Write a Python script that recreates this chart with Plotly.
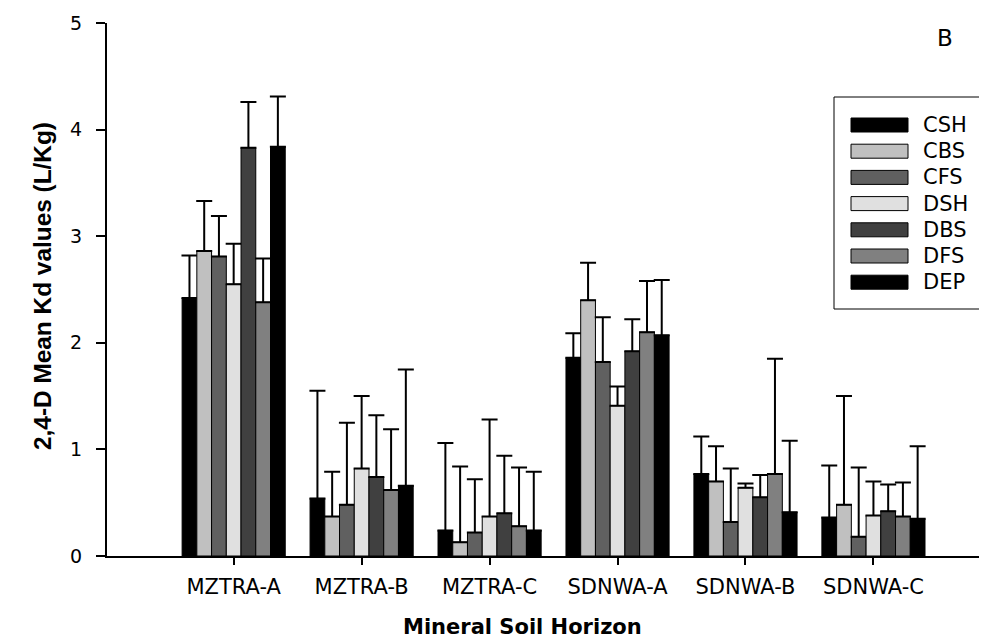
import plotly.graph_objects as go

categories = ["MZTRA-A", "MZTRA-B", "MZTRA-C", "SDNWA-A", "SDNWA-B", "SDNWA-C"]

series_names = ["CSH", "CBS", "CFS", "DSH", "DBS", "DFS", "DEP"]

CSH = [2.42, 0.54, 0.24, 1.86, 0.77, 0.36]
CBS = [2.86, 0.37, 0.13, 2.40, 0.70, 0.48]
CFS = [2.81, 0.48, 0.22, 1.82, 0.32, 0.18]
DSH = [2.55, 0.82, 0.37, 1.41, 0.64, 0.38]
DBS = [3.83, 0.74, 0.40, 1.92, 0.55, 0.42]
DFS = [2.38, 0.62, 0.28, 2.10, 0.77, 0.37]
DEP = [3.84, 0.66, 0.24, 2.07, 0.41, 0.35]

CSH_err = [0.40, 1.01, 0.82, 0.23, 0.35, 0.49]
CBS_err = [0.47, 0.42, 0.71, 0.35, 0.33, 1.02]
CFS_err = [0.38, 0.77, 0.50, 0.42, 0.50, 0.65]
DSH_err = [0.38, 0.68, 0.91, 0.18, 0.04, 0.32]
DBS_err = [0.43, 0.58, 0.54, 0.30, 0.21, 0.25]
DFS_err = [0.41, 0.57, 0.55, 0.48, 1.08, 0.32]
DEP_err = [0.47, 1.09, 0.55, 0.52, 0.67, 0.68]

y_ticks = [0, 1, 2, 3, 4, 5]

values = [CSH, CBS, CFS, DSH, DBS, DFS, DEP]
errors = [CSH_err, CBS_err, CFS_err, DSH_err, DBS_err, DFS_err, DEP_err]
colors = ["#000000", "#c0c0c0", "#606060", "#e0e0e0", "#404040", "#808080", "#000000"]

fig = go.Figure()
for name, vals, errs, col in zip(series_names, values, errors, colors):
    fig.add_trace(go.Bar(
        name=name, x=categories, y=vals,
        marker=dict(color=col, line=dict(color="#000000", width=1)),
        error_y=dict(type="data", array=errs, arrayminus=[0] * len(errs),
                     symmetric=False, color="#000000", thickness=2, width=8),
        showlegend=False,
    ))

W, H = 987, 639
L, R, T, B = 99, 0, 15, 91
pw, ph = W - L - R, H - T - B


def px(x):
    return (x - L) / pw


def py(y):
    return (H - B - y) / ph


# legend drawn as a boxed key (layout decoration)
shapes = [dict(type="rect", xref="paper", yref="paper",
               x0=px(826), x1=px(986), y0=py(301), y1=py(89),
               line=dict(color="#000000", width=1), fillcolor="white", layer="above")]
annotations = []
row0, rowstep = 117, 26.2
for i, (name, col) in enumerate(zip(series_names, colors)):
    yc = row0 + rowstep * i
    shapes.append(dict(type="rect", xref="paper", yref="paper",
                       x0=px(843), x1=px(900), y0=py(yc + 7), y1=py(yc - 7),
                       line=dict(color="#000000", width=1), fillcolor=col, layer="above"))
    annotations.append(dict(text=name, xref="paper", yref="paper", x=px(913), y=py(yc),
                            xanchor="left", yanchor="middle", showarrow=False,
                            font=dict(family="DejaVu Sans", size=21)))

annotations += [
    dict(text="<b>2,4-D Mean Kd values (L/Kg)</b>", textangle=-90,
         xref="paper", yref="paper", x=px(34), y=py(278),
         xanchor="center", yanchor="middle", showarrow=False,
         font=dict(family="Liberation Sans, Arial", size=24.4)),
    dict(text="<b>Mineral Soil Horizon</b>",
         xref="paper", yref="paper", x=px(514), y=py(619),
         xanchor="center", yanchor="middle", showarrow=False,
         font=dict(family="DejaVu Sans", size=21)),
    dict(text="B", xref="paper", yref="paper", x=px(937), y=py(30),
         xanchor="center", yanchor="middle", showarrow=False,
         font=dict(family="DejaVu Sans", size=23)),
]

fig.update_layout(
    width=W, height=H,
    margin=dict(l=L, r=R, t=T, b=B, autoexpand=False),
    paper_bgcolor="white", plot_bgcolor="white",
    barmode="group", bargap=0.194, bargroupgap=0,
    font=dict(family="DejaVu Sans", color="#000000"),
    xaxis=dict(
        range=[-0.99, 5.95], showline=True, linecolor="#000000", linewidth=2,
        ticks="outside", ticklen=7, tickwidth=2, tickcolor="#000000",
        tickfont=dict(family="DejaVu Sans", size=21), ticklabelstandoff=4,
        showgrid=False, zeroline=False,
    ),
    yaxis=dict(
        range=[0, 5], tickvals=y_ticks, showline=True, linecolor="#000000", linewidth=2,
        ticks="outside", ticklen=9, tickwidth=2, tickcolor="#000000",
        tickfont=dict(family="DejaVu Sans", size=19), ticklabelstandoff=10,
        showgrid=False, zeroline=False,
    ),
    showlegend=False,
    shapes=shapes,
    annotations=annotations,
)

fig.write_html("out.html")
